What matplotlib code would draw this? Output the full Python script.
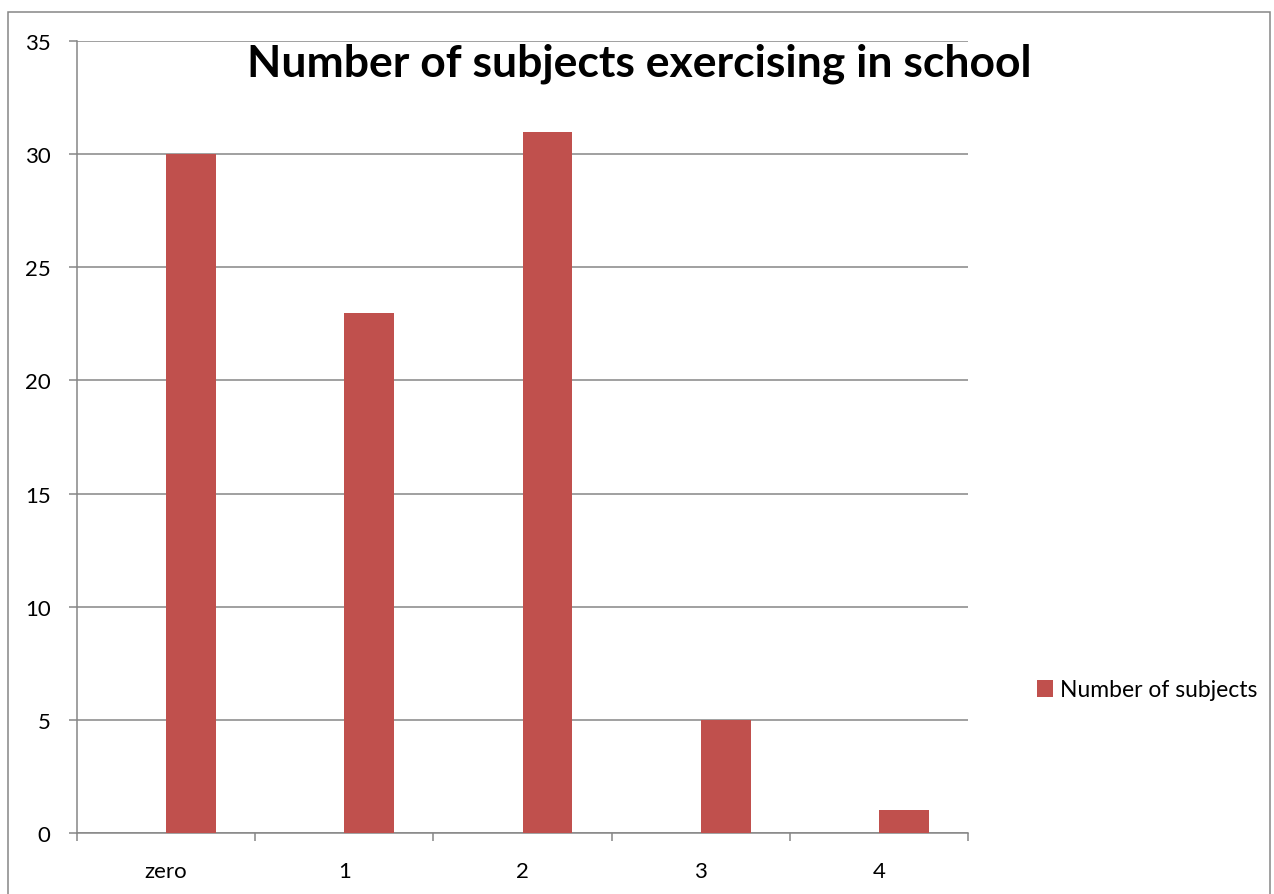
import matplotlib.pyplot as plt
import matplotlib.patches as patches
import numpy as np

# data
categories = ['zero', '1', '2', '3', '4']
subjects = [30, 23, 31, 5, 1]
series_name = 'Number of subjects'

plt.rcParams['font.family'] = ['Lato', 'DejaVu Sans']

W, H = 1274, 895
fig = plt.figure(figsize=(W / 100, H / 100), dpi=100)
ax = fig.add_axes([77 / W, (H - 834) / H, 891 / W, 792 / H])

x = np.arange(len(categories))
bars = ax.bar(x, subjects, width=0.28, align='edge', color='#C0504D',
              label=series_name, zorder=3)

ax.set_xlim(-0.5, len(categories) - 0.5)
ax.set_ylim(0, 35)
ax.set_yticks(np.arange(0, 36, 5))
ax.yaxis.grid(True, color='#868686', linewidth=1.1, zorder=0)
ax.set_axisbelow(True)

ax.set_xticks(x)
ax.set_xticklabels(categories)
ax.set_xticks(np.arange(-0.5, len(categories), 1), minor=True)
ax.tick_params(axis='x', which='major', length=0, pad=20, labelsize=16)
ax.tick_params(axis='x', which='minor', length=6, width=1.1, color='#868686')
ax.tick_params(axis='y', length=6, width=1.1, color='#868686', pad=13, labelsize=16)

for s in ['top', 'right']:
    ax.spines[s].set_visible(False)
for s in ['left', 'bottom']:
    ax.spines[s].set_color('#868686')
    ax.spines[s].set_linewidth(1.1)

fig.text(639 / W, 1 - 64 / H, 'Number of subjects exercising in school',
         ha='center', va='center', fontsize=32, fontweight='bold')

ax.legend(loc='center left', bbox_to_anchor=(1016 / W, 1 - 691 / H),
          bbox_transform=fig.transFigure, frameon=False, fontsize=16.5,
          handlelength=0.7, handleheight=0.7, handletextpad=0.3)

border = patches.Rectangle((8 / W, -0.01), 1262 / W, 1 - 13 / H + 0.01,
                           transform=fig.transFigure, fill=False,
                           edgecolor='#868686', linewidth=1.1)
fig.patches.append(border)

fig.savefig('out.png', dpi=100)
